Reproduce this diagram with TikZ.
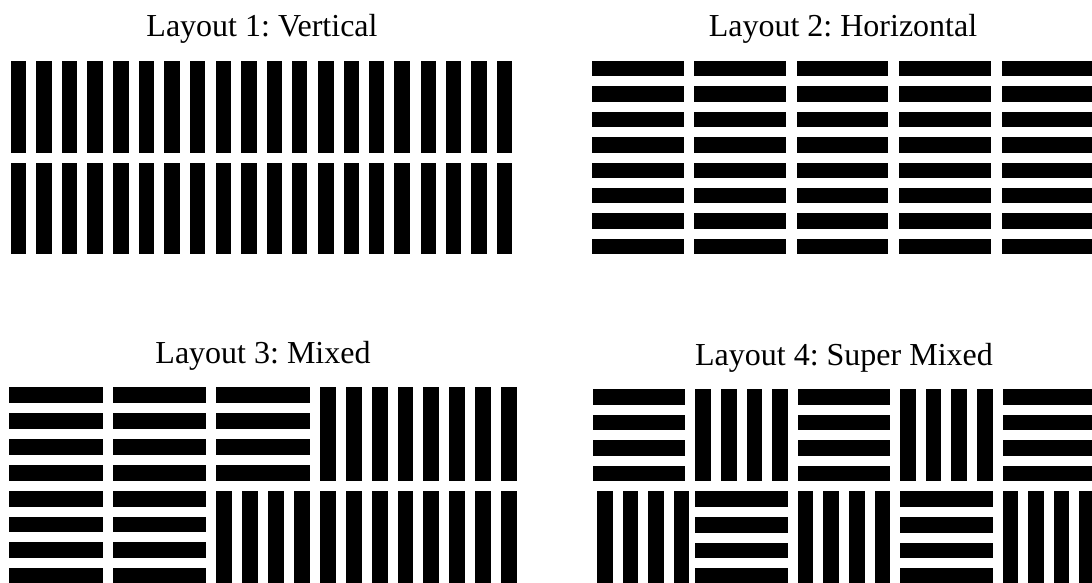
\documentclass[tikz,border=0pt]{standalone}
\usepackage{fontspec}
\setmainfont{Liberation Serif}
\frenchspacing

% white space between two bars
\newcommand{\bargap}{10}
% block of 4 horizontal bars: x, y, pitch
\newcommand{\hbars}[3]{%
  \foreach \k in {0,...,3}
    \fill[bar] ({#1}, {#2+\k*#3}) rectangle ++({4*#3-\bargap}, {#3-\bargap});}
% block of 4 vertical bars: x, y, pitch
\newcommand{\vbars}[3]{%
  \foreach \k in {0,...,3}
    \fill[bar] ({#1+\k*#3}, {#2}) rectangle ++({#3-\bargap}, {4*#3-\bargap});}

\tikzset{
  bar/.style={fill=black},
  title/.style={anchor=base, inner sep=0pt, font=\fontsize{32}{38}\selectfont}
}

\begin{document}
\begin{tikzpicture}[x=1pt, y=-1pt]
  \useasboundingbox (0,0) rectangle (1092,583);
  \clip (0,0) rectangle (1092,583);

  % Layout 1
  \node[title] (lay1) at (262,37) {Layout 1: Vertical};
  \foreach \i in {0,...,4}
    \foreach \j in {0,1}
      \vbars{11+\i*102.4}{61+\j*101.6}{25.4};

  % Layout 2
  \node[title] (lay2) at (843,37) {Layout 2: Horizontal};
  \foreach \i in {0,...,4}
    \foreach \j in {0,1}
      \hbars{592+\i*102.4}{61+\j*101.6}{25.4};

  % Layout 3
  \node[title] (lay3) at (263,363) {Layout 3: Mixed};
  \foreach \i/\j in {0/0, 1/0, 2/0, 0/1, 1/1}
    \hbars{9+\i*103.6}{387+\j*103.6}{25.9};
  \foreach \i/\j in {3/0, 4/0, 2/1, 3/1, 4/1}
    \vbars{9+\i*103.6}{387+\j*103.6}{25.9};

  % Layout 4
  \node[title] (lay4) at (844,365) {Layout 4: Super Mixed};
  \foreach \i/\j in {0/0, 2/0, 4/0, 1/1, 3/1}
    \hbars{593+\i*102.4}{389+\j*102.4}{25.6};
  \vbars{597}{389+102.4}{25.6};
  \foreach \i/\j in {1/0, 3/0, 2/1, 4/1}
    \vbars{593+\i*102.4}{389+\j*102.4}{25.6};
\end{tikzpicture}
\end{document}
